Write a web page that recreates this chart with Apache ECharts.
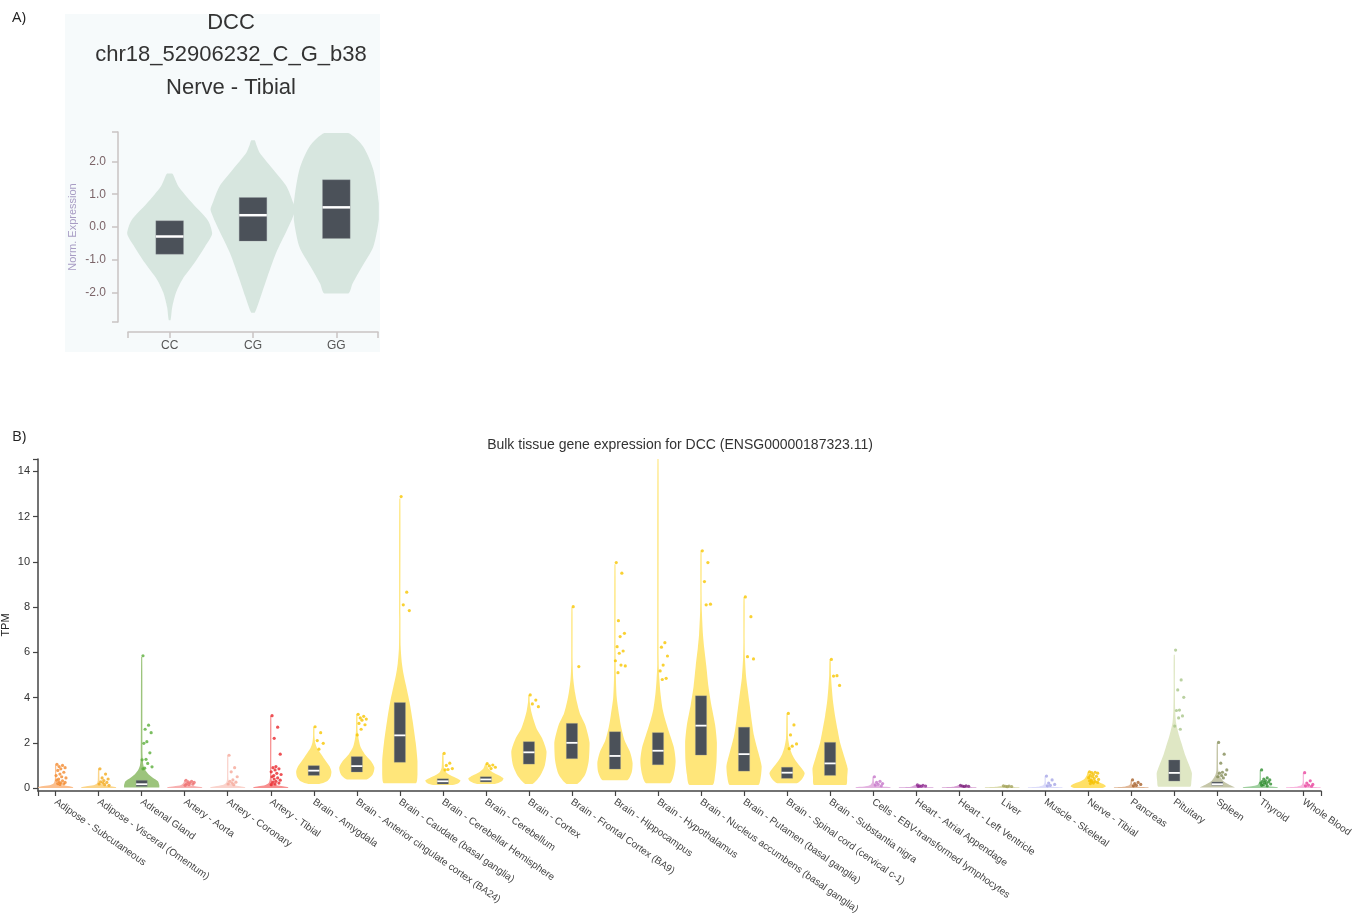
<!DOCTYPE html>
<html><head><meta charset="utf-8">
<script src="https://cdn.jsdelivr.net/npm/echarts@6/dist/echarts.min.js"></script>
<style>html,body{margin:0;padding:0;background:#fff}#c{width:1362px;height:920px}</style>
</head><body><div id="c"></div>
<script>
// ---------------- Panel A data ----------------
const aTitleLines = ['DCC', 'chr18_52906232_C_G_b38', 'Nerve - Tibial'];
const aGenotypes = ['CC', 'CG', 'GG'];
const aYTicks = [-2, -1, 0, 1, 2];
// violin profiles: [norm. expression, relative half-width]
const aViolinCC = [[-2.85,0.02],[-2.45,0.06],[-2.0,0.15],[-1.6,0.3],[-1.1,0.58],[-0.6,0.83],[-0.2,1.0],[0.2,0.9],[0.7,0.55],[1.0,0.35],[1.25,0.2],[1.45,0.13],[1.63,0.06]];
const aViolinCG = [[-2.62,0.04],[-2.13,0.18],[-1.52,0.34],[-0.8,0.54],[-0.09,0.8],[0.53,1.0],[0.73,0.95],[1.24,0.79],[1.75,0.48],[2.26,0.16],[2.5,0.08],[2.65,0.04]];
const aViolinGG = [[-2.03,0.28],[-1.73,0.38],[-1.22,0.6],[-0.6,0.87],[0.22,1.0],[0.73,1.0],[1.75,0.87],[2.46,0.63],[2.87,0.28]];
// boxes: [q1, median, q3]
const aBoxes = [[-0.83,-0.29,0.19],[-0.43,0.36,0.9],[-0.35,0.6,1.44]];

// ---------------- Panel B data ----------------
const bTitle = 'Bulk tissue gene expression for DCC (ENSG00000187323.11)';
const bTissues = ['Adipose - Subcutaneous','Adipose - Visceral (Omentum)','Adrenal Gland','Artery - Aorta','Artery - Coronary','Artery - Tibial','Brain - Amygdala','Brain - Anterior cingulate cortex (BA24)','Brain - Caudate (basal ganglia)','Brain - Cerebellar Hemisphere','Brain - Cerebellum','Brain - Cortex','Brain - Frontal Cortex (BA9)','Brain - Hippocampus','Brain - Hypothalamus','Brain - Nucleus accumbens (basal ganglia)','Brain - Putamen (basal ganglia)','Brain - Spinal cord (cervical c-1)','Brain - Substantia nigra','Cells - EBV-transformed lymphocytes','Heart - Atrial Appendage','Heart - Left Ventricle','Liver','Muscle - Skeletal','Nerve - Tibial','Pancreas','Pituitary','Spleen','Thyroid','Whole Blood'];
const bYTicks = [0, 2, 4, 6, 8, 10, 12, 14];
// violin profiles: [TPM, relative half-width]
const bViolins = [
  [[0,0.95],[0.04,1.0],[0.08,0.8],[0.12,0.35],[0.2,0.12],[0.35,0.05],[0.6,0.035],[1.02,0.03]],
  [[0,0.95],[0.04,1.0],[0.08,0.7],[0.12,0.3],[0.2,0.1],[0.35,0.05],[0.86,0.03]],
  [[0.02,1.0],[0.12,1.0],[0.3,0.92],[0.45,0.65],[0.6,0.4],[0.8,0.2],[1.0,0.1],[1.4,0.05],[5.8,0.03]],
  [[0,0.95],[0.04,1.0],[0.08,0.6],[0.14,0.2],[0.25,0.06],[0.35,0.03]],
  [[0,0.95],[0.04,1.0],[0.08,0.7],[0.13,0.3],[0.22,0.1],[0.4,0.04],[1.42,0.03]],
  [[0,0.95],[0.04,1.0],[0.08,0.7],[0.14,0.3],[0.25,0.1],[0.5,0.04],[3.2,0.03]],
  [[0.18,0.3],[0.3,0.75],[0.5,0.95],[0.72,1.0],[0.95,0.9],[1.2,0.68],[1.5,0.42],[1.75,0.2],[2.0,0.08],[2.3,0.04],[2.7,0.03]],
  [[0.38,0.55],[0.6,0.9],[0.9,1.0],[1.2,0.8],[1.5,0.45],[1.8,0.22],[2.1,0.12],[2.5,0.05],[3.25,0.03]],
  [[0.21,0.9],[0.6,1.0],[1.2,1.0],[2.0,0.9],[3.0,0.72],[3.8,0.55],[4.5,0.36],[5.0,0.22],[5.5,0.12],[6.2,0.05],[7.5,0.035],[12.8,0.03]],
  [[0.13,0.55],[0.22,0.9],[0.33,1.0],[0.45,0.75],[0.58,0.4],[0.7,0.18],[0.9,0.07],[1.53,0.03]],
  [[0.18,0.5],[0.3,0.9],[0.42,1.0],[0.55,0.75],[0.7,0.38],[0.85,0.15],[1.08,0.03]],
  [[0.18,0.2],[0.5,0.6],[1.0,0.9],[1.6,1.0],[2.2,0.75],[2.6,0.45],[3.0,0.27],[3.4,0.13],[3.8,0.05],[4.12,0.03]],
  [[0.18,0.3],[0.6,0.75],[1.2,0.95],[2.0,1.0],[2.8,0.75],[3.3,0.45],[3.8,0.28],[4.2,0.18],[4.8,0.08],[5.5,0.04],[8.0,0.03]],
  [[0.35,0.7],[0.7,0.95],[1.1,1.0],[1.6,0.85],[2.1,0.55],[2.7,0.35],[3.2,0.24],[4.0,0.1],[5.0,0.05],[6.0,0.035],[9.9,0.03]],
  [[0.21,0.67],[0.6,0.9],[1.2,1.0],[1.8,0.9],[2.3,0.7],[3.0,0.42],[3.5,0.26],[4.2,0.14],[4.8,0.08],[5.5,0.04],[14.55,0.03]],
  [[0.13,0.65],[0.6,0.8],[1.2,0.88],[2.0,0.9],[2.8,0.8],[3.7,0.58],[4.5,0.42],[5.4,0.3],[6.2,0.18],[6.8,0.11],[7.8,0.05],[8.5,0.035],[10.5,0.03]],
  [[0.13,0.8],[0.5,0.95],[0.95,1.0],[1.6,0.8],[2.3,0.57],[3.0,0.43],[3.8,0.3],[4.4,0.2],[4.9,0.12],[5.8,0.05],[6.5,0.035],[8.45,0.03]],
  [[0.21,0.55],[0.4,0.85],[0.65,1.0],[0.9,0.8],[1.2,0.5],[1.5,0.28],[1.8,0.15],[2.2,0.06],[3.3,0.03]],
  [[0.13,0.9],[0.5,0.97],[0.85,1.0],[1.4,0.8],[2.0,0.57],[2.6,0.42],[3.2,0.28],[3.8,0.17],[4.4,0.1],[5.0,0.05],[5.7,0.03]],
  [[0,0.95],[0.04,1.0],[0.07,0.5],[0.12,0.2],[0.25,0.06],[0.5,0.03]],
  [[0,0.95],[0.03,1.0],[0.06,0.3],[0.15,0.03]],
  [[0,0.95],[0.03,1.0],[0.06,0.3],[0.12,0.03]],
  [[0,0.95],[0.03,1.0],[0.06,0.3],[0.1,0.03]],
  [[0,0.95],[0.03,1.0],[0.06,0.4],[0.12,0.12],[0.25,0.04],[0.53,0.03]],
  [[0,0.8],[0.08,1.0],[0.18,0.85],[0.28,0.5],[0.4,0.22],[0.55,0.09],[0.72,0.03]],
  [[0,0.95],[0.03,1.0],[0.06,0.4],[0.12,0.12],[0.2,0.05],[0.35,0.03]],
  [[0.06,0.9],[0.3,0.97],[0.65,1.0],[1.0,0.85],[1.5,0.6],[2.0,0.4],[2.3,0.28],[2.9,0.1],[3.5,0.05],[4.5,0.035],[5.9,0.03]],
  [[0.02,1.0],[0.1,0.8],[0.2,0.55],[0.3,0.35],[0.45,0.2],[0.6,0.1],[0.8,0.05],[2.0,0.03]],
  [[0,0.95],[0.04,1.0],[0.08,0.5],[0.15,0.15],[0.3,0.05],[0.8,0.03]],
  [[0,0.95],[0.03,1.0],[0.06,0.4],[0.12,0.12],[0.25,0.04],[0.68,0.03]]
];
// boxes: [q1, median, q3] (null where not visible)
const bBoxes = [null,null,[0.07,0.17,0.34],null,null,null,[0.56,0.77,0.99],[0.71,0.97,1.39],[1.14,2.33,3.78],[0.18,0.3,0.41],[0.27,0.38,0.5],[1.06,1.58,2.05],[1.3,2.0,2.86],[0.84,1.42,2.49],[1.03,1.65,2.45],[1.46,2.76,4.08],[0.75,1.5,2.69],[0.43,0.68,0.92],[0.56,1.09,2.02],null,null,null,null,null,null,null,[0.31,0.67,1.24],[0.12,0.17,0.27],null,null];
// outlier sample values (TPM)
const bPoints = [
  [1.05,1.0,0.95,0.9,0.85,0.78,0.7,0.62,0.55,0.5,0.45,0.4,0.35,0.32,0.28,0.25,0.22,0.2,0.18,0.16],
  [0.85,0.62,0.45,0.4,0.33,0.28,0.25,0.22,0.18,0.15,0.12],
  [5.85,2.78,2.6,2.45,2.05,1.98,1.56,1.27,1.25,1.09,0.94,0.88,0.85],
  [0.34,0.3,0.28,0.25,0.22,0.2,0.17,0.15,0.12],
  [1.45,0.9,0.72,0.5,0.36,0.3,0.26,0.22,0.18,0.15],
  [3.2,2.69,2.2,1.5,0.95,0.9,0.85,0.8,0.72,0.65,0.6,0.55,0.5,0.45,0.4,0.35,0.3,0.26,0.22,0.18,0.15],
  [2.71,2.45,2.1,1.98,1.72],
  [3.26,3.17,3.1,3.05,3.0,2.86,2.8,2.6,2.35],
  [12.89,8.66,8.1,7.85],
  [1.53,1.1,1.0,0.86,0.82,0.8],
  [1.08,1.02,0.98,0.92,0.86],
  [4.12,3.89,3.72,3.6],
  [8.02,5.37],
  [9.97,9.5,7.4,6.84,6.7,6.25,6.06,5.96,5.63,5.44,5.4,5.1],
  [14.58,6.43,6.23,5.84,5.44,5.18,4.85,4.8],
  [10.49,9.97,9.13,8.13,8.1],
  [8.45,7.58,5.81,5.71],
  [3.3,2.79,2.35,1.95,1.85,1.74],
  [5.69,4.97,4.95,4.54],
  [0.5,0.3,0.25,0.2,0.16,0.13,0.1],
  [0.14,0.12,0.1,0.09,0.08,0.07],
  [0.12,0.1,0.09,0.08,0.07],
  [0.1,0.09,0.08,0.07,0.06],
  [0.53,0.36,0.22,0.16,0.12,0.1],
  [0.72,0.7,0.68,0.66,0.6,0.56,0.52,0.5,0.46,0.42,0.38,0.35,0.32,0.3,0.28,0.25,0.22,0.2],
  [0.36,0.25,0.2,0.16,0.12,0.1],
  [6.1,4.78,4.34,4.01,3.45,3.43,3.19,3.1,2.74,2.6],
  [2.02,1.5,1.1,0.8,0.7,0.66,0.6,0.55,0.5,0.45],
  [0.8,0.45,0.4,0.36,0.32,0.3,0.27,0.24,0.22,0.2,0.18,0.15,0.12,0.1],
  [0.68,0.32,0.22,0.16,0.13,0.1,0.08]
];

// ---------------- styles ----------------
const bFillColors = ['#fbbf8e','#fbd58a','#9cc47c','#f7b0b0','#fad3cc','#f79090',
  '#ffe67a','#ffe67a','#ffe67a','#ffe67a','#ffe67a','#ffe67a','#ffe67a','#ffe67a','#ffe67a','#ffe67a','#ffe67a','#ffe67a','#ffe67a',
  '#e3b3e0','#d9a6d9','#d8a2d4','#dcdcb0','#dcdcfa','#ffe066','#e0b898','#dfe7c4','#c5c6a8','#9fcf9f','#f8b5dd'];
const bPointColors = ['#f28a2e','#f2aa1e','#5aae3a','#ee6e6e','#f5a898','#e8252a',
  '#f7c600','#f7c600','#f7c600','#f7c600','#f7c600','#f7c600','#f7c600','#f7c600','#f7c600','#f7c600','#f7c600','#f7c600','#f7c600',
  '#c577c9','#8e2a90','#7c1f7a','#a3a35a','#a5a5e6','#f5c000','#a8612c','#a9c68a','#838c58','#2f8f2f','#e8449e'];
const jitter = [0.03,0.16,0.08,0.22,0.12,0.05,0.19,0.1,0.01,0.14,0.24,0.07];
const FONT = '"Liberation Sans", Arial, sans-serif';

function violinRender(profiles, halfMax) {
  return function (params, api) {
    const i = api.value(0);
    const prof = profiles[i];
    const right = prof.map(p => api.coord([i + p[1] * halfMax, p[0]]));
    const left = prof.slice().reverse().map(p => api.coord([i - p[1] * halfMax, p[0]]));
    const pts = right.concat(left);
    let x0 = Infinity, y0 = Infinity, x1 = -Infinity, y1 = -Infinity;
    pts.forEach(p => { x0 = Math.min(x0, p[0]); y0 = Math.min(y0, p[1]); x1 = Math.max(x1, p[0]); y1 = Math.max(y1, p[1]); });
    return {
      type: 'polygon',
      shape: { points: pts, smooth: 0.25, smoothConstraint: [[x0, y0], [x1, y1]] },
      style: { fill: api.visual('color'), stroke: null }
    };
  };
}
function boxRender(boxes, halfW, medW) {
  return function (params, api) {
    const i = api.value(0);
    const b = boxes[i];
    if (!b) return null;
    const p1 = api.coord([i - halfW, b[2]]);
    const p2 = api.coord([i + halfW, b[0]]);
    const m = api.coord([i, b[1]]);
    return {
      type: 'group',
      children: [
        { type: 'rect', shape: { x: p1[0], y: p1[1], width: p2[0] - p1[0], height: p2[1] - p1[1] },
          style: { fill: '#4b5159', stroke: 'rgba(150,155,160,0.6)', lineWidth: 0.5 } },
        { type: 'rect', shape: { x: p1[0], y: m[1] - medW / 2, width: p2[0] - p1[0], height: medW },
          style: { fill: '#ffffff' } }
      ]
    };
  };
}

const aProfiles = [aViolinCC, aViolinCG, aViolinGG];
const bXTickVals = [-0.41].concat(bTissues.map((t, i) => i), [29.41]);
const bPointData = [];
bPoints.forEach((arr, i) => arr.forEach((v, k) => {
  bPointData.push({ value: [i + jitter[k % jitter.length], v], itemStyle: { color: bPointColors[i] } });
}));

const chart = echarts.init(document.getElementById('c'), null, { renderer: 'canvas' });
chart.setOption({
  animation: false,
  backgroundColor: '#ffffff',
  graphic: [
    { type: 'rect', z: -10, shape: { x: 65, y: 14, width: 315, height: 338 }, style: { fill: '#f6fafb' } },
    { type: 'text', x: 12, y: 18, style: { text: 'A)', font: '15px "Open Sans", sans-serif', fill: '#222', verticalAlign: 'middle' } },
    { type: 'text', x: 12, y: 437, style: { text: 'B)', font: '15px "Open Sans", sans-serif', fill: '#222', verticalAlign: 'middle' } },
    { type: 'text', x: 231, y: 23, style: { text: aTitleLines[0], font: '22px ' + FONT, fill: '#333', align: 'center', verticalAlign: 'middle' } },
    { type: 'text', x: 231, y: 55, style: { text: aTitleLines[1], font: '22px ' + FONT, fill: '#333', align: 'center', verticalAlign: 'middle' } },
    { type: 'text', x: 231, y: 88, style: { text: aTitleLines[2], font: '22px ' + FONT, fill: '#333', align: 'center', verticalAlign: 'middle' } },
    { type: 'text', x: 680, y: 445, style: { text: bTitle, font: '14px ' + FONT, fill: '#333', align: 'center', verticalAlign: 'middle' } }
  ],
  grid: [
    { left: 128, top: 132, width: 250, height: 190, containLabel: false, outerBoundsMode: 'none' },
    { left: 38, top: 459, width: 1283, height: 332, containLabel: false, outerBoundsMode: 'none' }
  ],
  xAxis: [
    { gridIndex: 0, type: 'value', min: -0.5, max: 2.5, offset: 10,
      axisLine: { onZero: false, lineStyle: { color: '#c9c3c3', width: 1.5 } },
      axisTick: { customValues: [-0.5, 0, 1, 2, 2.5], length: 6, lineStyle: { color: '#c9c3c3', width: 1.5 } },
      axisLabel: { customValues: [0, 1, 2], formatter: v => aGenotypes[Math.round(v)], color: '#555', fontSize: 12, fontFamily: FONT, margin: 8 },
      splitLine: { show: false } },
    { gridIndex: 1, type: 'value', min: -0.41, max: 29.41,
      axisLine: { onZero: false, lineStyle: { color: '#444', width: 1.5 } },
      axisTick: { customValues: bXTickVals, length: 5, lineStyle: { color: '#444', width: 1.2 } },
      axisLabel: { customValues: bTissues.map((t, i) => i), formatter: v => bTissues[Math.round(v)], rotate: -35,
        color: '#444', fontSize: 10, fontFamily: FONT, margin: 10 },
      splitLine: { show: false } }
  ],
  yAxis: [
    { gridIndex: 0, type: 'value', min: -2.9, max: 2.9, offset: 10,
      name: 'Norm. Expression', nameLocation: 'middle', nameGap: 40, nameMoveOverlap: false,
      nameTextStyle: { color: '#a89cc4', fontSize: 11, fontFamily: FONT },
      axisLine: { onZero: false, lineStyle: { color: '#c9c3c3', width: 1.5 } },
      axisTick: { customValues: [-2.9].concat(aYTicks, [2.9]), length: 6, lineStyle: { color: '#c9c3c3', width: 1.5 } },
      axisLabel: { customValues: aYTicks, formatter: v => v.toFixed(1), color: '#7b6468', fontSize: 12, fontFamily: FONT, margin: 12 },
      splitLine: { show: false } },
    { gridIndex: 1, type: 'value', min: -0.13, max: 14.55,
      name: 'TPM', nameLocation: 'middle', nameGap: 27, nameMoveOverlap: false,
      nameTextStyle: { color: '#222', fontSize: 11, fontFamily: FONT },
      axisLine: { onZero: false, lineStyle: { color: '#444', width: 1.5 } },
      axisTick: { customValues: bYTicks.concat([14.55]), length: 5, lineStyle: { color: '#444', width: 1.2 } },
      axisLabel: { customValues: bYTicks, color: '#333', fontSize: 11, fontFamily: FONT, margin: 8 },
      splitLine: { show: false } }
  ],
  series: [
    { type: 'custom', xAxisIndex: 0, yAxisIndex: 0, z: 2, renderItem: violinRender(aProfiles, 0.51),
      data: aGenotypes.map((g, i) => ({ value: [i, 0], itemStyle: { color: '#d7e6df' } })) },
    { type: 'custom', xAxisIndex: 0, yAxisIndex: 0, z: 3, renderItem: boxRender(aBoxes, 0.166, 2.5),
      data: aGenotypes.map((g, i) => ({ value: [i, 0] })) },
    { type: 'custom', xAxisIndex: 1, yAxisIndex: 1, z: 2, renderItem: violinRender(bViolins, 0.41),
      data: bTissues.map((t, i) => ({ value: [i, 0], itemStyle: { color: bFillColors[i] } })) },
    { type: 'custom', xAxisIndex: 1, yAxisIndex: 1, z: 3, renderItem: boxRender(bBoxes, 0.13, 1.8),
      data: bTissues.map((t, i) => ({ value: [i, 0] })) },
    { type: 'scatter', xAxisIndex: 1, yAxisIndex: 1, z: 4, symbol: 'circle', symbolSize: 3.2,
      data: bPointData }
  ]
});
</script></body></html>
